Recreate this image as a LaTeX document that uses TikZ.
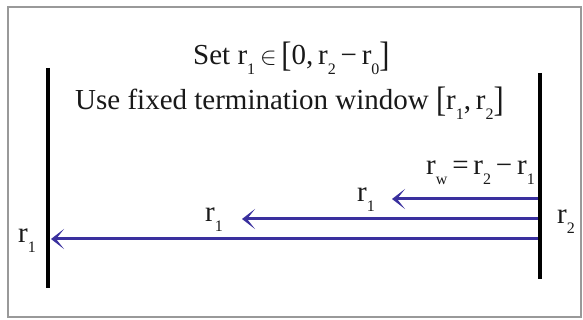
\documentclass[tikz,border=0pt]{standalone}
\usepackage{fontspec}
\setmainfont{Liberation Serif}
\usetikzlibrary{arrows.meta}
\definecolor{arrowblue}{RGB}{58,48,158}
\newcommand\sbs[1]{\raisebox{-0.33em}{\fontsize{16}{16}\selectfont #1}}
\newcommand\lbr{\raisebox{-0.05em}{\scalebox{1.05}[1.22]{[}}}
\newcommand\rbr{\raisebox{-0.05em}{\scalebox{1.05}[1.22]{]}}}
\begin{document}
\begin{tikzpicture}[x=1pt,y=-1pt,
  txt/.style={font=\fontsize{29}{32}\selectfont, inner sep=0pt, text=black!90},
  bar/.style={line width=4.5pt, black},
  sig/.style={line width=3pt, arrowblue, -{Stealth[length=13pt,width=20pt,inset=8pt]}}]
\useasboundingbox (0,0) rectangle (583,320);
\fill[white] (0,0) rectangle (583,320);
\draw[gray!80, line width=1.5pt] (8,7) rectangle (581,317);
% bars
\coordinate (Ltop) at (48,68);
\coordinate (Lbot) at (48,288);
\coordinate (Rtop) at (540,73);
\coordinate (Rbot) at (540,279);
\draw[bar] (Ltop) -- (Lbot);
\draw[bar] (Rtop) -- (Rbot);
% header text
\node[txt, anchor=base west] (set) at (193,65) {Set r\sbs{1}\,$\in$\,\lbr 0,\,r\sbs{2}\,−\,r\sbs{0}\rbr};
\node[txt, anchor=base west] (use) at (75,110) {Use fixed termination window \lbr r\sbs{1},\,r\sbs{2}\rbr};
\node[txt, anchor=base east] (rw) at (535,175) {r\sbs{w}\,=\,r\sbs{2}\,−\,r\sbs{1}};
% arrows
\coordinate (s1) at (538,199);
\coordinate (t1) at (392,199);
\coordinate (s2) at (538,219);
\coordinate (t2) at (242,219);
\coordinate (s3) at (538,239);
\coordinate (t3) at (51,239);
\draw[sig] (s1) -- (t1);
\draw[sig] (s2) -- (t2);
\draw[sig] (s3) -- (t3);
% labels
\node[txt, anchor=base west] (l1) at (357,202) {r\sbs{1}};
\node[txt, anchor=base west] (l2) at (205,222) {r\sbs{1}};
\node[txt, anchor=base west] (l3) at (18,243) {r\sbs{1}};
\node[txt, anchor=base west] (r2) at (557,224) {r\sbs{2}};
\end{tikzpicture}
\end{document}
